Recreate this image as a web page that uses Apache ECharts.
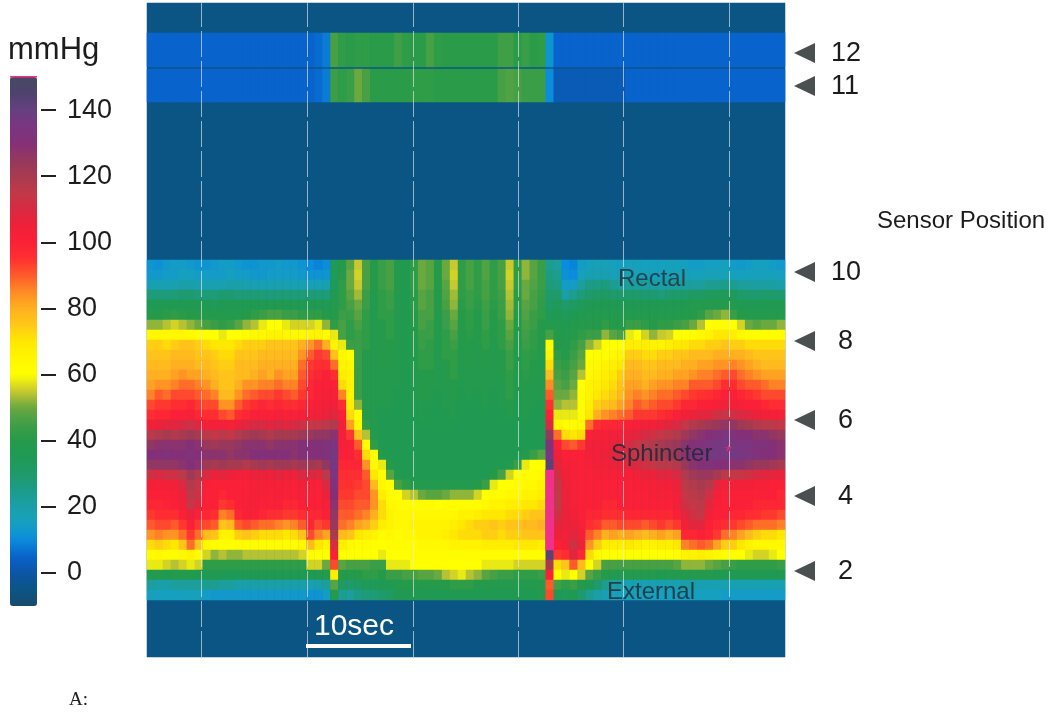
<!DOCTYPE html>
<html><head><meta charset="utf-8">
<style>html,body{margin:0;padding:0;background:#fff}#c{width:1050px;height:715px}</style>
<script src="https://cdn.jsdelivr.net/npm/echarts@6/dist/echarts.min.js"></script>
</head><body><div id="c"></div>
<script>
// colour scale in 5 mmHg steps from -10 to 150
const scaleColors = ['#1a4a6e','#0b5585','#0c55a5','#0863cc','#0b8cdc','#16a0c0','#1a9fa8','#1c9c8a','#1f9a6a','#1f9a55','#259a4a','#3f9e46','#6aa840','#c8c830','#ffff00','#fff600','#ffe800','#ffc818','#ffb020','#ff8c24','#ff5a2c','#ff3030','#fa2038','#f02038','#d82a42','#c03a48','#a83a50','#95385e','#843078','#7a3680','#664080','#4e4270','#454a60'];
const peakColor = '#f0308c';
const colorTicks = [0,20,40,60,80,100,120,140];
const baselinePressure = -5;
const sensorMarks = ['12','11','10','8','6','4','2'];
const gridLineSeconds = [5.1,15.2,25.2,35.2,45.1,55.2];
const sensor12 = [5,5,5,5,5,5,5,5,5,5, 5,5,5,5,5,5,5,5,5,5, 5,6,8,46,42,41,42,42,41,41, 41,45,42,41,41,46,42,41,41,41, 41,41,41,41,45,45,41,44,41,42, 12,5,5,5,5,5,5,5,5,5, 5,5,5,5,5,5,5,5,5,5, 5,5,5,5,5,5,5,5,5,5];
const sensor11 = [5,5,5,5,5,5,5,5,5,5, 5,5,5,5,5,5,5,5,5,5, 5,6,8,44,42,44,50,46,41,41, 41,41,41,42,42,42,41,41,41,41, 41,41,41,41,46,47,46,44,44,44, 10,2,2,2,2,2,2,2,2,2, 5,5,5,5,5,5,5,5,5,5, 5,5,5,5,5,5,5,5,5,5];
// anorectal pressure, one line per time column, 34 values from the top (rectal) to the bottom (external)
const pressure = [
[12,13,18,28,35,40,52,64,74,76,78,80,82,86,92,96,104,116,126,130,126,112,104,100,98,94,90,84,72,62,58,38,22,16],
[11,13,18,28,36,40,52,64,74,76,78,80,84,90,94,98,106,118,128,130,126,110,102,100,98,96,92,86,74,64,58,38,20,15],
[13,14,18,27,36,41,54,64,72,76,78,80,84,88,94,98,108,120,128,132,126,112,104,100,99,96,92,84,72,62,56,36,20,15],
[14,14,19,28,36,42,56,64,74,78,80,82,86,92,96,100,108,118,128,130,126,112,104,102,100,96,90,84,70,62,54,38,22,15],
[14,15,20,29,36,41,54,64,76,78,80,84,88,92,96,100,110,120,128,130,128,116,110,106,104,100,94,88,76,64,56,38,22,15],
[13,15,20,29,36,40,52,63,76,78,80,82,88,92,98,102,112,122,130,132,130,122,118,116,114,106,100,94,88,66,58,38,22,16],
[12,14,19,28,36,40,50,62,74,76,78,82,86,90,94,98,108,120,128,130,128,118,114,112,108,100,94,88,76,62,56,36,22,16],
[12,14,18,28,36,38,46,60,72,76,78,80,84,88,92,96,104,116,124,128,122,110,102,100,100,98,92,78,64,56,42,36,24,14],
[13,14,18,28,34,38,44,60,70,74,76,78,80,86,92,96,104,114,122,128,120,106,100,100,100,96,90,76,62,52,42,36,24,13],
[14,14,19,29,36,38,42,58,70,72,74,76,76,78,84,92,104,116,124,128,122,108,100,98,94,86,76,66,60,54,42,36,22,13],
[14,15,20,29,36,38,44,60,70,72,74,76,76,78,84,90,102,114,124,126,120,106,100,100,96,88,78,66,60,52,42,35,22,13],
[13,14,20,28,36,38,48,60,72,76,78,78,80,84,90,96,106,118,126,128,120,104,100,100,100,98,90,74,62,52,42,35,20,13],
[12,14,19,28,36,40,52,62,74,76,78,78,84,88,94,98,108,120,128,128,118,104,100,101,102,100,92,76,62,54,42,35,20,13],
[12,13,18,28,36,42,54,64,74,76,78,80,84,90,96,100,110,122,128,130,120,106,102,102,102,100,90,74,62,54,42,36,20,13],
[13,13,18,28,37,44,58,64,74,78,80,82,86,92,98,100,110,120,128,130,122,106,102,102,100,98,88,72,62,54,42,36,20,13],
[13,14,18,27,37,46,60,66,76,78,80,80,86,92,96,100,108,118,126,130,120,106,102,100,100,96,88,72,62,54,42,36,20,13],
[14,14,19,28,37,46,60,66,76,78,80,84,88,94,98,102,110,120,128,130,122,108,102,102,100,96,86,72,62,54,42,36,20,13],
[13,14,18,28,37,44,58,65,76,78,80,82,86,92,96,100,108,120,128,130,122,106,102,100,98,94,84,70,62,54,42,36,20,13],
[13,14,18,28,36,44,56,64,76,78,80,82,86,90,96,100,110,120,128,128,120,106,100,100,98,94,86,72,62,54,42,35,20,13],
[12,13,18,28,36,42,56,64,80,84,88,90,92,94,98,102,112,122,130,130,122,110,104,102,100,96,90,76,64,56,42,36,20,13],
[10,12,17,28,36,42,56,66,84,90,94,96,98,98,100,104,114,124,130,130,122,110,102,100,100,98,98,92,78,62,56,36,18,12],
[9,12,17,28,36,42,58,66,88,94,96,98,100,100,102,104,114,126,130,130,120,108,100,100,100,98,92,86,70,60,56,36,20,12],
[10,12,18,28,36,40,52,62,80,92,96,100,100,102,104,106,116,126,132,132,126,116,110,106,102,100,94,82,66,60,50,38,22,14],
[34,34,34,36,38,40,42,58,66,76,88,96,100,102,104,108,118,128,134,136,136,134,132,130,128,126,124,120,110,100,92,68,48,38],
[40,40,42,42,42,44,46,46,58,64,66,68,72,86,96,100,104,104,102,100,98,96,95,94,92,90,88,78,68,60,48,40,32,24],
[48,50,50,48,46,44,42,42,44,60,64,66,66,66,68,72,82,94,100,100,98,96,95,94,92,90,86,76,64,60,46,40,30,22],
[55,56,55,53,50,48,46,44,44,44,44,44,44,44,52,60,64,76,90,96,98,96,94,92,90,88,82,70,62,60,46,40,32,26],
[46,46,46,44,44,42,42,42,42,40,40,40,40,40,40,40,42,54,62,72,84,90,92,92,90,86,80,68,62,60,46,42,34,28],
[40,40,40,38,38,38,38,38,38,38,38,38,38,38,38,38,38,38,42,60,64,70,78,84,84,80,74,66,61,60,44,42,34,28],
[44,44,44,42,42,42,40,40,40,40,40,38,38,38,38,36,36,36,36,40,58,62,64,68,72,72,68,62,60,58,44,40,36,30],
[46,46,46,44,44,42,42,42,40,40,40,38,38,38,38,36,36,36,36,36,40,48,60,62,64,66,66,64,62,60,58,44,36,32],
[38,38,38,38,38,38,38,38,38,38,38,38,38,37,37,36,36,36,36,36,36,38,46,60,62,64,64,62,62,60,58,44,38,36],
[37,37,37,37,37,37,37,37,37,37,37,37,37,37,37,36,36,36,36,36,36,36,42,56,62,64,64,64,62,60,58,46,40,36],
[42,42,42,41,41,40,40,40,39,39,38,38,38,38,37,37,36,36,36,36,36,36,38,54,62,64,66,64,62,62,60,46,40,36],
[50,50,50,48,48,46,46,44,44,42,42,40,40,40,38,38,37,36,36,36,36,36,38,50,62,64,66,66,64,62,60,48,40,36],
[48,48,48,46,46,46,44,44,42,42,42,40,40,38,38,37,37,36,36,36,36,36,38,48,62,64,66,66,64,62,60,48,40,36],
[40,40,40,40,40,38,38,38,38,38,38,38,38,37,37,36,36,36,36,36,36,36,38,48,60,64,66,66,64,62,60,50,40,36],
[50,50,48,47,46,44,44,42,42,42,40,40,38,38,38,37,37,36,36,36,36,36,38,50,62,64,66,68,64,62,60,54,40,36],
[55,56,55,53,52,50,48,46,44,42,42,42,40,40,38,38,37,36,36,36,36,36,38,52,62,64,68,70,66,62,60,56,42,36],
[42,42,42,42,41,40,40,40,39,39,38,38,38,37,37,36,36,36,36,36,36,36,38,52,62,66,70,72,66,62,60,58,42,36],
[46,46,46,44,44,42,42,41,40,40,40,38,38,38,37,36,36,36,36,36,36,36,38,52,62,66,72,72,66,62,60,54,42,36],
[42,42,42,42,41,40,40,40,39,39,38,38,38,37,37,36,36,36,36,36,36,36,40,56,62,68,74,72,66,62,60,52,40,36],
[47,47,46,46,45,44,44,42,42,40,40,38,38,38,38,36,36,36,36,36,36,36,44,60,64,70,74,74,68,62,58,48,40,36],
[42,42,42,42,41,40,40,40,39,38,38,38,38,37,37,36,36,36,36,36,36,40,58,62,66,70,76,74,68,62,58,46,38,36],
[46,46,46,45,44,44,42,42,42,40,40,40,38,38,38,36,36,36,36,36,36,46,60,62,66,70,74,72,68,62,58,44,38,36],
[55,56,55,54,53,52,50,48,46,44,44,42,42,42,40,38,36,36,36,36,38,56,60,64,68,72,76,74,68,62,58,44,38,36],
[42,42,42,41,41,40,40,40,39,39,38,38,38,37,37,36,36,36,36,36,44,60,62,64,68,72,76,74,70,62,56,42,38,36],
[52,52,50,50,48,47,46,45,44,42,42,41,40,40,38,38,36,36,36,38,58,62,64,66,70,74,78,76,70,62,56,42,38,36],
[48,48,47,46,46,44,44,42,42,41,40,40,38,38,38,36,36,36,36,44,60,62,64,66,70,76,78,76,70,62,56,42,38,36],
[44,44,44,43,42,42,40,40,40,39,39,38,38,38,37,36,36,36,36,48,60,64,66,68,72,76,80,76,68,62,56,44,40,38],
[24,26,28,30,32,34,38,46,62,66,72,78,85,90,95,100,110,125,132,135,142,160,160,160,160,160,160,160,160,142,120,100,90,92],
[22,24,26,30,34,36,38,40,40,42,44,46,48,50,52,58,64,88,100,105,108,112,114,115,115,112,108,106,100,94,72,60,45,35],
[10,11,14,20,30,34,36,38,38,40,42,44,46,50,54,58,62,72,92,100,102,104,106,106,106,106,106,104,104,96,76,58,42,34],
[9,10,14,24,32,36,38,40,42,44,46,48,50,52,54,58,62,70,90,100,102,102,102,102,102,104,106,108,112,108,90,60,44,36],
[14,16,22,28,34,38,40,42,46,48,50,54,60,62,62,62,64,72,94,100,100,100,100,100,100,100,102,104,106,98,78,56,40,30],
[16,18,26,30,36,38,40,44,52,60,62,64,66,66,68,70,88,100,104,104,102,100,100,100,100,98,96,90,84,72,60,48,36,24],
[17,18,26,32,36,38,40,44,56,62,64,66,68,70,74,80,96,102,104,104,104,102,100,100,100,98,94,86,74,62,56,44,30,20],
[17,18,27,32,36,38,42,52,60,62,66,68,70,72,76,84,98,102,104,106,104,102,100,100,98,96,90,80,68,60,46,40,24,18],
[16,17,24,30,36,38,40,48,60,64,68,70,72,74,78,86,98,104,106,108,106,102,100,100,98,96,90,82,68,60,46,38,20,16],
[15,17,22,30,36,38,40,46,60,66,70,74,76,78,82,88,98,104,108,110,106,102,100,100,100,96,92,80,68,60,46,38,20,16],
[16,17,22,30,36,38,44,58,68,74,78,80,82,84,86,90,100,106,110,112,108,102,100,100,100,98,92,82,70,60,46,38,18,16],
[16,17,22,30,36,38,44,60,68,74,78,80,82,86,90,94,102,108,114,114,110,104,102,100,100,98,92,80,68,60,46,38,18,16],
[15,17,22,29,36,38,42,56,68,72,76,78,80,84,88,94,104,110,116,118,112,106,102,100,100,98,90,78,66,60,46,38,18,16],
[15,16,21,29,36,38,40,52,66,72,76,78,82,86,90,94,104,112,118,118,114,106,102,102,100,98,92,80,66,60,46,38,18,15],
[15,16,20,28,36,38,42,55,66,74,78,80,84,88,92,96,106,114,120,120,116,108,104,102,100,98,94,82,68,60,46,37,18,15],
[16,17,21,30,36,38,42,56,68,74,78,80,84,88,92,98,108,116,122,122,116,108,104,102,100,98,92,80,68,60,46,38,18,15],
[16,17,22,30,37,38,44,60,70,76,78,82,86,90,94,100,110,118,124,124,118,110,106,104,104,100,94,82,70,62,48,38,18,15],
[15,17,22,30,37,39,46,60,70,76,80,82,86,92,98,104,114,122,128,128,124,118,116,114,112,108,104,98,86,66,52,38,20,15],
[14,16,22,32,38,40,50,62,72,78,80,84,90,94,98,106,118,126,130,132,128,122,118,116,114,112,108,98,88,66,52,38,20,15],
[14,16,22,32,38,42,54,64,72,78,82,86,90,95,100,108,120,128,132,134,130,124,120,118,116,114,108,100,90,68,52,38,18,15],
[15,17,24,33,38,48,60,66,74,78,82,86,90,96,100,108,122,130,134,136,132,124,118,112,108,104,100,98,88,66,50,38,18,15],
[15,17,24,34,38,50,62,70,74,80,84,88,92,98,102,112,124,132,136,136,130,120,108,104,102,100,98,94,82,64,48,37,18,15],
[15,17,25,34,40,52,62,70,76,80,84,90,96,100,104,114,126,134,136,136,130,116,104,100,100,100,96,88,74,62,46,36,18,14],
[14,16,24,33,38,44,60,68,74,80,86,92,96,100,104,112,126,132,136,136,128,114,104,100,100,98,94,86,74,62,44,36,18,14],
[13,15,22,30,36,40,56,64,74,80,84,88,92,98,102,110,122,130,134,136,128,114,104,100,100,98,92,82,70,60,42,36,18,14],
[14,16,22,30,36,38,50,62,72,78,82,86,90,96,100,108,120,130,134,134,126,112,104,100,100,96,90,78,66,58,42,36,18,14],
[15,16,21,29,36,38,48,62,72,76,80,84,90,94,100,106,118,128,132,132,124,110,102,100,98,96,88,74,64,56,42,36,18,14],
[15,16,21,30,36,38,50,62,72,76,78,82,88,92,98,104,116,128,132,130,124,108,102,100,98,94,88,72,64,56,42,36,18,14],
[14,16,21,30,36,38,50,62,72,76,78,82,86,92,96,104,116,126,130,130,122,108,100,100,98,94,88,72,64,58,42,36,18,14],
[13,15,20,29,36,38,52,62,72,76,78,82,86,92,96,102,114,124,128,128,120,106,100,98,98,92,86,70,64,60,44,36,18,14]
];

const idx = n => Array.from({length:n},(_,i)=>i);
const sans = '"Liberation Sans",Arial,sans-serif';
const mainData = [];
pressure.forEach((col,x)=>col.forEach((v,y)=>mainData.push([x,y,v])));
const peakData = mainData.filter(d=>d[2]>150);
const bandData = arr => arr.map((v,x)=>[x,0,v]);

const panels = [
  {left:147,top:3,width:638,height:654},
  {left:147,top:33,width:638,height:34},
  {left:147,top:69,width:638,height:33},
  {left:147,top:260,width:638,height:340},
  {left:147,top:3,width:638,height:654},
  {left:41,top:77,width:1,height:529}
];
const catX = n => ({type:'category',data:idx(n),show:false,boundaryGap:true});
const heat = (g,data) => ({type:'heatmap',xAxisIndex:g,yAxisIndex:g,data,silent:true,progressive:0,itemStyle:{borderWidth:0},emphasis:{disabled:true}});
const label = (text,x,y,size,fill) => ({type:'text',z:100,silent:true,style:{text,x,y,fill,font:size+'px '+sans,verticalAlign:'middle'}});

const markY = [53,86,272,341,420,496,571];
const markX = [831,831,831,838,838,838,838];
const graphics = [
  label('mmHg',8,50,31,'#1c1c1c'),
  label('Sensor Position',877,221,24,'#1c1c1c'),
  {type:'text',z:100,silent:true,style:{text:'A:',x:69,y:700,fill:'#222',font:'19px "Liberation Serif",serif',verticalAlign:'middle'}},
  label('10sec',314,627,30,'#fff'),
  {type:'rect',z:100,silent:true,shape:{x:306,y:644,width:105,height:4},style:{fill:'#fff'}},
  {type:'rect',z:100,silent:true,shape:{x:10,y:76,width:27,height:1.5},style:{fill:peakColor}},
  label('Rectal',618,279,24,'rgba(35,50,60,.82)'),
  label('Sphincter',611,454,24,'rgba(35,40,55,.88)'),
  label('*',725,453,18,'#d8307a'),
  label('External',607,592,24,'rgba(35,50,60,.88)')
];
sensorMarks.forEach((m,i)=>{
  graphics.push({type:'polygon',z:100,silent:true,shape:{points:[[794,markY[i]],[815,markY[i]-10],[815,markY[i]+10]]},style:{fill:'#4a4f50'}});
  graphics.push(label(m,markX[i],markY[i]+1,27,'#1c1c1c'));
});

const chart = echarts.init(document.getElementById('c'),null,{renderer:'canvas'});
chart.setOption({
  animation:false,
  backgroundColor:'#fff',
  grid:panels,
  xAxis:[catX(1),catX(80),catX(80),catX(80),
    {type:'value',min:0,max:60.47,show:false},
    {type:'value',show:false}].map((a,i)=>Object.assign({gridIndex:i},a)),
  yAxis:[
    {gridIndex:0,type:'category',data:[0],show:false},
    {gridIndex:1,type:'category',data:[0],show:false},
    {gridIndex:2,type:'category',data:[0],show:false},
    {gridIndex:3,type:'category',data:idx(34),inverse:true,show:false},
    {gridIndex:4,type:'value',min:0,max:1,show:false},
    {gridIndex:5,type:'value',min:-10,max:150,position:'right',splitLine:{show:false},axisLine:{show:false},
      axisTick:{show:true,length:15,customValues:colorTicks,lineStyle:{color:'#222',width:2}},
      axisLabel:{show:true,customValues:colorTicks,margin:25,fontSize:27,color:'#1c1c1c',fontFamily:sans}}
  ],
  visualMap:[
    {type:'continuous',min:-10,max:150,seriesIndex:[0,1,2,3],left:10,top:77,itemWidth:27,itemHeight:529,padding:0,
     calculable:false,hoverLink:false,text:null,inRange:{color:scaleColors}},
    {type:'continuous',min:150,max:170,seriesIndex:[5],show:false,inRange:{color:[peakColor,peakColor]}}
  ],
  graphic:graphics,
  series:[
    heat(0,[[0,0,baselinePressure]]),
    heat(1,bandData(sensor12)),
    heat(2,bandData(sensor11)),
    heat(3,mainData),
    {type:'scatter',xAxisIndex:4,yAxisIndex:4,data:[],silent:true,z:20,
     markLine:{silent:true,symbol:'none',animation:false,label:{show:false},
       lineStyle:{color:'#e4e8ee',type:[26,4],width:1,opacity:.65},
       data:gridLineSeconds.map(t=>({xAxis:t}))}},
    heat(3,peakData)
  ]
});
</script></body></html>
